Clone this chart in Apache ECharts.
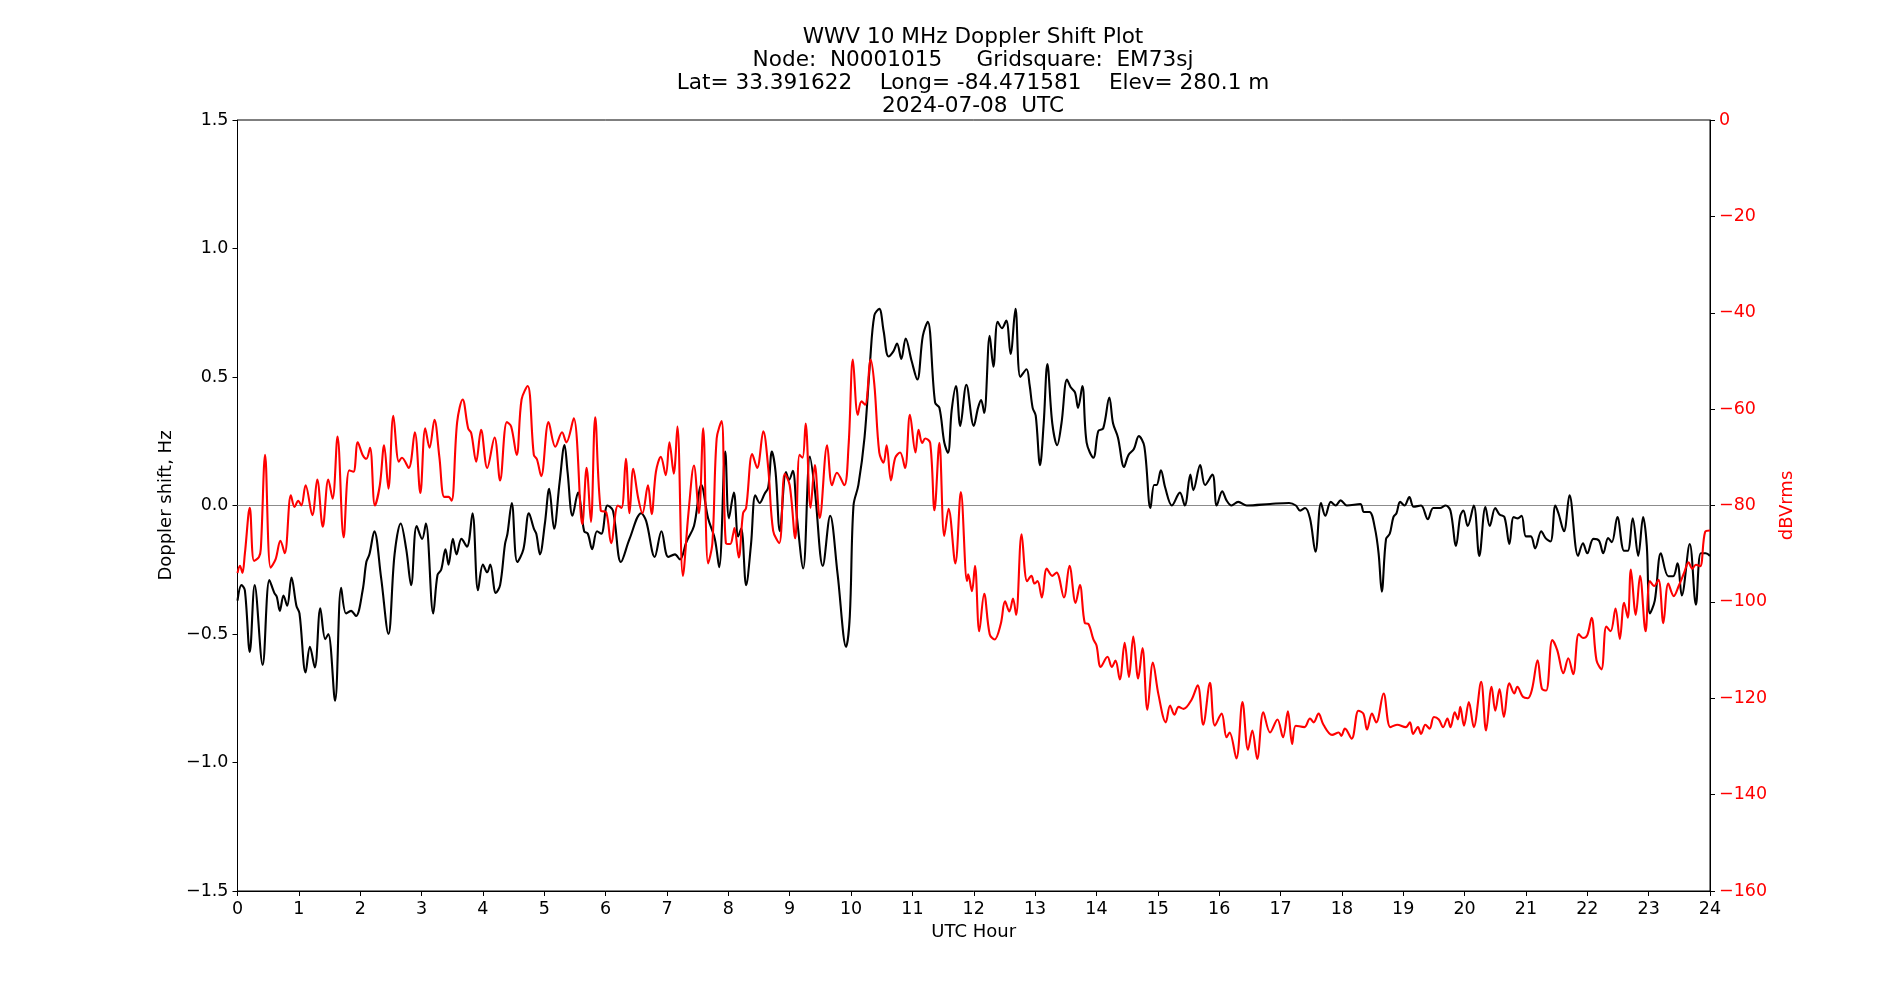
<!DOCTYPE html>
<html>
<head>
<meta charset="utf-8">
<title>WWV 10 MHz Doppler Shift Plot</title>
<script src="https://cdn.jsdelivr.net/npm/echarts@6/dist/echarts.min.js"></script>
<style>
  html, body { margin: 0; padding: 0; background: #fff; }
  #main { width: 1900px; height: 1000px; }
</style>
</head>
<body>
<div id="main"></div>
<script>
// doppler shift (black, left axis), UTC hour / Hz
var dopplerHours = [0, 0.065, 0.12, 0.2, 0.28, 0.41, 0.52, 0.6, 0.64, 0.69, 0.75, 0.81, 0.88, 0.96, 1.01, 1.11, 1.18, 1.26, 1.35, 1.43, 1.48, 1.59, 1.69, 1.77, 1.85, 1.93, 2.04, 2.1, 2.15, 2.23, 2.34, 2.46, 2.56, 2.66, 2.75, 2.83, 2.92, 3.01, 3.07, 3.19, 3.26, 3.32, 3.39, 3.44, 3.51, 3.57, 3.65, 3.74, 3.83, 3.92, 4.0, 4.07, 4.12, 4.21, 4.28, 4.36, 4.4, 4.47, 4.56, 4.66, 4.75, 4.83, 4.87, 4.93, 5.01, 5.08, 5.16, 5.25, 5.33, 5.38, 5.46, 5.55, 5.65, 5.71, 5.78, 5.86, 5.93, 6.03, 6.12, 6.25, 6.39, 6.58, 6.66, 6.8, 6.91, 7.02, 7.13, 7.21, 7.32, 7.44, 7.56, 7.67, 7.78, 7.85, 7.95, 8.01, 8.09, 8.16, 8.21, 8.29, 8.37, 8.44, 8.51, 8.59, 8.65, 8.71, 8.77, 8.84, 8.94, 8.99, 9.05, 9.12, 9.22, 9.33, 9.41, 9.54, 9.66, 9.78, 9.92, 9.98, 10.04, 10.12, 10.22, 10.31, 10.38, 10.46, 10.53, 10.61, 10.69, 10.75, 10.82, 10.89, 10.99, 11.08, 11.17, 11.25, 11.37, 11.44, 11.52, 11.58, 11.64, 11.71, 11.78, 11.88, 12.0, 12.07, 12.12, 12.17, 12.26, 12.32, 12.39, 12.46, 12.53, 12.6, 12.68, 12.76, 12.86, 12.91, 12.96, 13.01, 13.08, 13.14, 13.2, 13.28, 13.36, 13.43, 13.52, 13.58, 13.65, 13.7, 13.77, 13.84, 13.95, 14.03, 14.11, 14.21, 14.27, 14.35, 14.45, 14.52, 14.61, 14.69, 14.78, 14.88, 14.94, 14.98, 15.05, 15.12, 15.23, 15.36, 15.44, 15.53, 15.58, 15.69, 15.77, 15.89, 15.96, 16.05, 16.12, 16.2, 16.31, 16.45, 16.83, 17.14, 17.25, 17.32, 17.4, 17.48, 17.57, 17.66, 17.73, 17.82, 17.9, 17.98, 18.08, 18.3, 18.36, 18.45, 18.54, 18.6, 18.65, 18.72, 18.78, 18.84, 18.89, 18.95, 19.02, 19.1, 19.17, 19.29, 19.4, 19.49, 19.6, 19.69, 19.77, 19.86, 19.93, 19.98, 20.05, 20.15, 20.24, 20.34, 20.41, 20.5, 20.57, 20.65, 20.73, 20.8, 20.87, 20.93, 21.0, 21.08, 21.15, 21.25, 21.32, 21.4, 21.48, 21.53, 21.62, 21.71, 21.85, 21.93, 22.0, 22.1, 22.19, 22.26, 22.34, 22.4, 22.49, 22.6, 22.66, 22.74, 22.83, 22.91, 22.97, 23.02, 23.1, 23.2, 23.32, 23.4, 23.47, 23.54, 23.67, 23.77, 23.85, 23.93, 24.0];
var dopplerHz = [-0.37, -0.31, -0.33, -0.57, -0.31, -0.62, -0.29, -0.34, -0.355, -0.41, -0.35, -0.39, -0.28, -0.39, -0.42, -0.65, -0.55, -0.63, -0.4, -0.52, -0.5, -0.76, -0.32, -0.42, -0.41, -0.43, -0.33, -0.22, -0.19, -0.1, -0.28, -0.5, -0.19, -0.07, -0.17, -0.31, -0.08, -0.13, -0.07, -0.42, -0.27, -0.25, -0.17, -0.23, -0.13, -0.19, -0.13, -0.16, -0.03, -0.33, -0.23, -0.26, -0.23, -0.34, -0.31, -0.15, -0.11, 0.01, -0.22, -0.17, -0.03, -0.09, -0.11, -0.19, -0.07, 0.065, -0.09, 0.09, 0.235, 0.13, -0.04, 0.05, -0.1, -0.11, -0.17, -0.1, -0.11, 0.0, -0.02, -0.22, -0.13, -0.03, -0.06, -0.2, -0.1, -0.2, -0.19, -0.21, -0.14, -0.08, 0.08, -0.05, -0.13, -0.24, 0.21, -0.05, 0.05, -0.12, -0.09, -0.31, -0.15, 0.04, 0.01, 0.045, 0.07, 0.21, 0.13, -0.1, 0.13, 0.1, 0.135, -0.05, -0.245, 0.19, 0.06, -0.235, -0.04, -0.265, -0.55, -0.43, 0.0, 0.08, 0.265, 0.56, 0.74, 0.765, 0.68, 0.58, 0.6, 0.63, 0.57, 0.65, 0.56, 0.49, 0.66, 0.715, 0.4, 0.38, 0.245, 0.205, 0.37, 0.465, 0.31, 0.47, 0.31, 0.38, 0.41, 0.36, 0.66, 0.54, 0.715, 0.69, 0.72, 0.59, 0.765, 0.5, 0.53, 0.47, 0.38, 0.35, 0.157, 0.32, 0.55, 0.32, 0.235, 0.32, 0.49, 0.46, 0.44, 0.38, 0.465, 0.245, 0.186, 0.29, 0.3, 0.42, 0.32, 0.265, 0.15, 0.196, 0.22, 0.27, 0.23, -0.01, 0.08, 0.08, 0.137, 0.07, 0.0, 0.05, 0.0, 0.12, 0.06, 0.157, 0.08, 0.12, 0.0, 0.055, 0.02, 0.0, 0.014, 0.0, 0.006, 0.01, 0.0, -0.02, -0.01, -0.05, -0.18, 0.01, -0.04, 0.014, 0.0, 0.02, 0.0, 0.006, -0.025, -0.025, -0.09, -0.19, -0.335, -0.13, -0.11, -0.045, -0.03, 0.014, 0.0, 0.033, -0.005, 0.0, -0.053, -0.01, -0.01, 0.0, -0.02, -0.157, -0.04, -0.02, -0.08, 0.0, -0.196, -0.006, -0.08, -0.01, -0.035, -0.045, -0.15, -0.045, -0.05, -0.04, -0.12, -0.12, -0.167, -0.1, -0.127, -0.14, 0.0, -0.03, -0.1, 0.04, -0.196, -0.147, -0.186, -0.13, -0.137, -0.186, -0.127, -0.143, -0.045, -0.176, -0.176, -0.05, -0.196, -0.045, -0.157, -0.42, -0.37, -0.186, -0.275, -0.275, -0.225, -0.35, -0.15, -0.386, -0.186, -0.186, -0.196];

// received power (red, right axis), UTC hour / dBVrms
var powerHours = [0, 0.04, 0.08, 0.12, 0.2, 0.27, 0.35, 0.38, 0.45, 0.54, 0.62, 0.7, 0.77, 0.87, 0.93, 0.99, 1.04, 1.11, 1.22, 1.3, 1.39, 1.48, 1.55, 1.63, 1.73, 1.82, 1.89, 1.96, 2.04, 2.1, 2.16, 2.24, 2.32, 2.39, 2.46, 2.54, 2.63, 2.68, 2.79, 2.89, 2.98, 3.06, 3.13, 3.21, 3.29, 3.37, 3.44, 3.49, 3.58, 3.67, 3.76, 3.81, 3.89, 3.97, 4.07, 4.19, 4.28, 4.39, 4.46, 4.55, 4.63, 4.73, 4.83, 4.88, 4.95, 5.07, 5.18, 5.29, 5.36, 5.48, 5.62, 5.69, 5.76, 5.83, 5.92, 6.01, 6.09, 6.2, 6.26, 6.33, 6.39, 6.45, 6.53, 6.6, 6.69, 6.75, 6.82, 6.9, 6.98, 7.04, 7.11, 7.17, 7.26, 7.35, 7.44, 7.52, 7.59, 7.67, 7.74, 7.81, 7.89, 7.96, 8.03, 8.08, 8.1, 8.17, 8.24, 8.29, 8.39, 8.47, 8.57, 8.65, 8.73, 8.83, 8.92, 9.0, 9.09, 9.16, 9.21, 9.26, 9.34, 9.41, 9.49, 9.61, 9.69, 9.77, 9.89, 9.96, 10.03, 10.11, 10.17, 10.23, 10.32, 10.38, 10.46, 10.53, 10.58, 10.65, 10.72, 10.8, 10.88, 10.96, 11.05, 11.1, 11.16, 11.21, 11.29, 11.36, 11.44, 11.52, 11.59, 11.7, 11.79, 11.89, 11.91, 11.97, 12.02, 12.09, 12.17, 12.26, 12.34, 12.44, 12.51, 12.58, 12.64, 12.69, 12.78, 12.87, 12.94, 12.99, 13.04, 13.11, 13.19, 13.28, 13.35, 13.47, 13.56, 13.66, 13.73, 13.81, 13.87, 13.95, 14.0, 14.07, 14.18, 14.25, 14.31, 14.38, 14.46, 14.53, 14.6, 14.68, 14.75, 14.83, 14.92, 15.01, 15.13, 15.2, 15.27, 15.34, 15.42, 15.55, 15.65, 15.74, 15.85, 15.93, 16.04, 16.12, 16.17, 16.28, 16.38, 16.47, 16.54, 16.62, 16.72, 16.83, 16.95, 17.04, 17.12, 17.19, 17.25, 17.39, 17.48, 17.54, 17.62, 17.7, 17.84, 17.95, 17.99, 18.05, 18.16, 18.27, 18.35, 18.41, 18.49, 18.56, 18.68, 18.79, 18.9, 19.04, 19.11, 19.16, 19.24, 19.29, 19.36, 19.43, 19.5, 19.58, 19.65, 19.72, 19.77, 19.84, 19.89, 19.93, 19.99, 20.07, 20.15, 20.27, 20.35, 20.44, 20.5, 20.57, 20.64, 20.73, 20.81, 20.86, 20.95, 21.03, 21.1, 21.19, 21.26, 21.33, 21.43, 21.51, 21.61, 21.69, 21.77, 21.86, 21.93, 22.0, 22.07, 22.15, 22.23, 22.31, 22.38, 22.46, 22.53, 22.6, 22.66, 22.71, 22.79, 22.86, 22.95, 23.02, 23.09, 23.16, 23.24, 23.32, 23.41, 23.49, 23.58, 23.65, 23.71, 23.77, 23.84, 23.92, 24.0];
var powerDb = [-94, -92.5, -94, -90, -80.5, -91.5, -90.7, -89, -69.5, -92.9, -91.2, -87.3, -89.9, -77.9, -80.3, -79, -80, -75.8, -82, -74.6, -84.4, -74.6, -78.6, -65.7, -86.6, -72.7, -73, -66.9, -69.5, -70.3, -68, -80, -75.8, -67.5, -76.5, -61.4, -70.9, -70.1, -72.2, -64.8, -77.4, -64, -68, -62.2, -69.9, -78.2, -78.2, -79, -62.7, -58, -64, -65, -70.9, -64.3, -72.2, -65.9, -74.8, -62.7, -63.6, -69.5, -58, -55.2, -69.5, -70.4, -73.9, -62.7, -67.8, -64.8, -66.9, -61.9, -83.9, -72.2, -83.4, -61.7, -81, -81.4, -87.8, -80, -80.5, -70.3, -81.6, -72.4, -78.4, -81.6, -75.8, -81.8, -73, -69.9, -73.7, -66.9, -73.4, -63.6, -94.6, -81.6, -71.7, -81.6, -64, -92, -87.8, -66.1, -62.5, -87.8, -88, -85.8, -84.7, -90.8, -81.6, -80.5, -69.3, -72.2, -64.6, -72.2, -85.2, -87.8, -73.4, -75.8, -86.8, -69.5, -70.1, -63, -80.5, -71.6, -82.6, -67.5, -75.8, -73.2, -75.8, -67.5, -49.7, -61.2, -58.4, -59.1, -49.7, -54.9, -69, -71.1, -67.5, -74.8, -70.1, -69, -72.2, -61.2, -69, -64.3, -67, -66.1, -67, -81, -67, -86.3, -80.7, -92, -77.2, -95.7, -94.3, -97.8, -92.5, -106.1, -98.3, -106.7, -107.8, -104.6, -99.9, -102, -99.3, -102.7, -86, -95.7, -94.6, -96.2, -95.7, -99.1, -93.1, -94.6, -93.9, -99.1, -92.5, -100.2, -96.5, -104.4, -104.6, -107.8, -109, -113.5, -111.4, -113.5, -112.2, -116.1, -108.5, -115.6, -107.2, -115.9, -109.6, -122.4, -112.6, -119.2, -125, -121.5, -123.4, -121.8, -122.2, -120.3, -117.3, -125.5, -116.8, -125.7, -123.2, -128.1, -127.1, -132.5, -120.8, -130.7, -126.7, -132.6, -122.9, -127.1, -124.4, -128.1, -122.7, -129.5, -125.7, -126, -124.2, -125, -123.2, -125.5, -127.6, -127.1, -127.8, -126.3, -128.4, -122.6, -123.2, -126.5, -123.2, -125, -119, -126, -125.5, -126, -125, -127.4, -126, -127.4, -125.5, -126.3, -123.9, -124.4, -126, -124.2, -126, -122.9, -124.4, -121.8, -125.7, -120.8, -126, -116.6, -126.7, -117.6, -122.6, -118.1, -123.9, -116.9, -119, -117.6, -119.7, -120, -118.1, -112.1, -118, -118.4, -107.9, -110, -114.8, -111.7, -115, -106.7, -107.5, -106.9, -103.3, -112.1, -114, -105.1, -106.1, -101.4, -107.7, -100.2, -103.3, -93.3, -102.7, -94.6, -106.1, -95.7, -96.7, -95.4, -104.4, -96.2, -98.8, -96.7, -93.9, -91.8, -93.1, -92.3, -92.6, -85.5, -85.2];

var titleLines = [
  "WWV 10 MHz Doppler Shift Plot",
  "Node:  N0001015     Gridsquare:  EM73sj",
  "Lat= 33.391622    Long= -84.471581    Elev= 280.1 m",
  "2024-07-08  UTC"
];

var FONT = "DejaVu Sans";

function minusFmt(dec) {
  return function (v) {
    var s = v.toFixed(dec);
    return s.charAt(0) === "-" ? "\u2212" + s.slice(1) : s;
  };
}

var dopplerData = dopplerHours.map(function (h, i) { return [h, dopplerHz[i]]; });
var powerData = powerHours.map(function (h, i) { return [h, powerDb[i]]; });

var chart = echarts.init(document.getElementById("main"));

var option = {
  animation: false,
  backgroundColor: "#fff",
  textStyle: { fontFamily: FONT },
  title: {
    text: titleLines.join("\n"),
    left: 968,
    top: 20.5,
    textAlign: "center",
    textStyle: {
      fontFamily: FONT,
      fontWeight: "normal",
      fontSize: 21.6,
      lineHeight: 23,
      color: "#000"
    }
  },
  grid: {
    left: 237.5,
    right: 190,
    top: 120,
    bottom: 109,
    show: true,
    borderColor: "#000",
    borderWidth: 1,
    backgroundColor: "transparent"
  },
  xAxis: {
    type: "value",
    min: 0,
    max: 24,
    interval: 1,
    name: "UTC Hour",
    nameLocation: "middle",
    nameGap: 32,
    nameTextStyle: { fontFamily: FONT, fontSize: 18, color: "#000" },
    axisLine: { show: true, onZero: false, lineStyle: { color: "#000", width: 1 } },
    axisTick: { show: true, inside: false, length: 5, lineStyle: { color: "#000" } },
    axisLabel: { fontFamily: FONT, fontSize: 17.5, color: "#000", margin: 9 },
    splitLine: { show: false }
  },
  yAxis: [
    {
      type: "value",
      position: "left",
      min: -1.5,
      max: 1.5,
      interval: 0.5,
      name: "Doppler shift, Hz",
      nameLocation: "middle",
      nameGap: 60,
      nameRotate: 90,
      nameTextStyle: { fontFamily: FONT, fontSize: 18, color: "#000" },
      axisLine: { show: true, onZero: false, lineStyle: { color: "#000", width: 1 } },
      axisTick: { show: true, inside: false, length: 5, lineStyle: { color: "#000" } },
      axisLabel: { fontFamily: FONT, fontSize: 17.5, color: "#000", margin: 9, formatter: minusFmt(1) },
      splitLine: { show: false }
    },
    {
      type: "value",
      position: "right",
      min: -160,
      max: 0,
      interval: 20,
      name: "dBVrms",
      nameLocation: "middle",
      nameGap: 64,
      nameRotate: 90,
      nameTextStyle: { fontFamily: FONT, fontSize: 18, color: "#ff0000" },
      axisLine: { show: true, onZero: false, lineStyle: { color: "#000", width: 1 } },
      axisTick: { show: true, inside: false, length: 5, lineStyle: { color: "#000" } },
      axisLabel: { fontFamily: FONT, fontSize: 17.5, color: "#ff0000", margin: 9, formatter: minusFmt(0) },
      splitLine: { show: false }
    }
  ],
  series: [
    {
      name: "Doppler",
      type: "line",
      yAxisIndex: 0,
      data: dopplerData,
      showSymbol: false,
      smooth: 0.35,
      lineStyle: { color: "#000", width: 2.1 },
      z: 3,
      markLine: {
        silent: true,
        symbol: ["none", "none"],
        label: { show: false },
        lineStyle: { color: "#8c8c8c", width: 1.2, type: "solid" },
        z: 1,
        data: [{ yAxis: 0 }]
      }
    },
    {
      name: "Power",
      type: "line",
      yAxisIndex: 1,
      data: powerData,
      showSymbol: false,
      smooth: 0.35,
      lineStyle: { color: "#ff0000", width: 2.1 },
      z: 4
    }
  ]
};

chart.setOption(option);
</script>
</body>
</html>
